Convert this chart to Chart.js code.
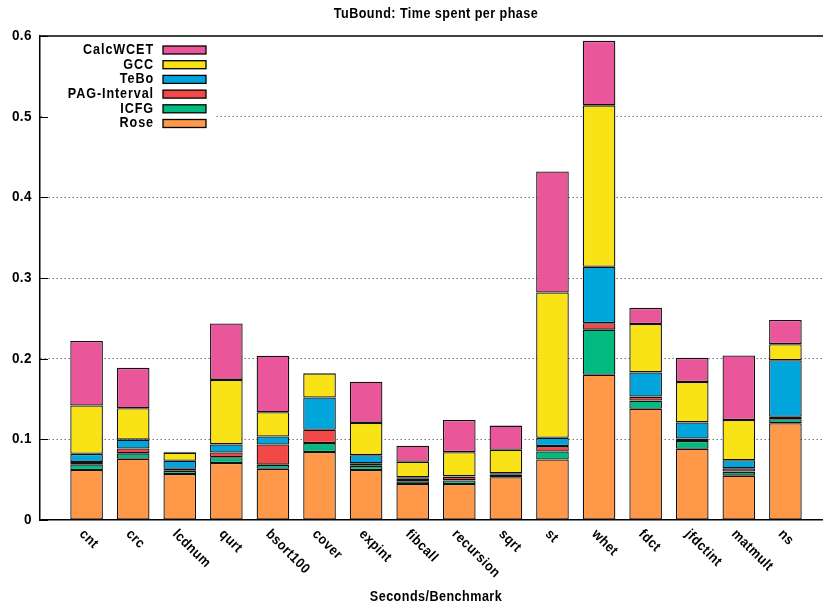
<!DOCTYPE html>
<html>
<head>
<meta charset="utf-8">
<title>TuBound: Time spent per phase</title>
<script src="https://cdn.jsdelivr.net/npm/chart.js@4/dist/chart.umd.min.js"></script>
<style>
  html, body { margin: 0; padding: 0; background: #fff; overflow: hidden; }
  #wrap { width: 832px; height: 609px; }
</style>
</head>
<body>
<div id="wrap"><canvas id="chart" width="832" height="609"></canvas></div>
<script>
// benchmarks on the x axis
var categories = ['cnt', 'crc', 'lcdnum', 'qurt', 'bsort100', 'cover', 'expint', 'fibcall',
  'recursion', 'sqrt', 'st', 'whet', 'fdct', 'jfdctint', 'matmult', 'ns'];

// seconds per phase
var rose     = [0.062, 0.076, 0.057, 0.0707, 0.0636, 0.0843, 0.062, 0.0446, 0.0446, 0.053, 0.075, 0.180, 0.138, 0.0884, 0.055, 0.120];
var icfg     = [0.007, 0.0066, 0.004, 0.007, 0.005, 0.011, 0.0054, 0.0035, 0.0045, 0.003, 0.010, 0.056, 0.010, 0.0096, 0.005, 0.005];
var pagInt   = [0.003, 0.006, 0.0025, 0.006, 0.025, 0.0165, 0.003, 0.003, 0.0045, 0.001, 0.0066, 0.008, 0.005, 0.003, 0.004, 0.003];
var tebo     = [0.010, 0.011, 0.010, 0.010, 0.010, 0.040, 0.010, 0.0018, 0.0005, 0.001, 0.0104, 0.070, 0.030, 0.020, 0.010, 0.070];
var gcc      = [0.060, 0.039, 0.010, 0.080, 0.030, 0.030, 0.040, 0.0194, 0.030, 0.029, 0.180, 0.200, 0.060, 0.050, 0.050, 0.020];
var calcWcet = [0.080, 0.050, 0.001, 0.070, 0.070, 0, 0.051, 0.0198, 0.040, 0.030, 0.150, 0.080, 0.020, 0.030, 0.080, 0.030];

var yTicks = [0, 0.1, 0.2, 0.3, 0.4, 0.5, 0.6];
var yTickLabels = ['0', '0.1', '0.2', '0.3', '0.4', '0.5', '0.6'];

var FONT = "'Liberation Sans', Arial, sans-serif";
var NARROW = 0.9; // squeeze text horizontally, gnuplot font is narrow

function points(arr) {
  return arr.map(function (v, i) { return { x: i, y: v }; });
}

function ds(label, arr, color) {
  return {
    label: label,
    data: points(arr),
    backgroundColor: color,
    borderColor: '#111',
    borderWidth: 1.3,
    borderSkipped: false,
    barPercentage: 0.7,
    categoryPercentage: 1.0
  };
}

var datasets = [
  ds('Rose', rose, 'rgb(255,152,72)'),
  ds('ICFG', icfg, 'rgb(0,186,128)'),
  ds('PAG-Interval', pagInt, 'rgb(243,72,72)'),
  ds('TeBo', tebo, 'rgb(0,166,219)'),
  ds('GCC', gcc, 'rgb(249,227,22)'),
  ds('CalcWCET', calcWcet, 'rgb(233,86,153)')
];

function drawText(ctx, s, x, y, align, angle) {
  ctx.save();
  ctx.translate(x, y);
  if (angle) ctx.rotate(angle);
  ctx.scale(NARROW, 1);
  ctx.textAlign = align;
  ctx.fillText(s, 0, 0);
  ctx.restore();
}

// gnuplot-like decorations: titles, tick labels, legend, frame
var decorPlugin = {
  id: 'decor',
  beforeDatasetsDraw: function (chart) {
    var ctx = chart.ctx, a = chart.chartArea;
    // legend box hides the grid behind it
    ctx.save();
    ctx.fillStyle = '#fff';
    ctx.fillRect(a.left + 2, a.top + 2, 172, 96);
    ctx.restore();
  },
  afterDraw: function (chart) {
    var ctx = chart.ctx, a = chart.chartArea;
    var xs = chart.scales.x, ys = chart.scales.y;
    ctx.save();

    // top frame line
    ctx.strokeStyle = '#000';
    ctx.lineWidth = 1.5;
    ctx.beginPath();
    ctx.moveTo(a.left, a.top);
    ctx.lineTo(a.right, a.top);
    ctx.stroke();

    // inward ticks on y axis
    ctx.lineWidth = 1;
    yTicks.forEach(function (v) {
      var y = Math.round(ys.getPixelForValue(v)) + 0.5;
      ctx.beginPath();
      ctx.moveTo(a.left, y);
      ctx.lineTo(a.left + 8, y);
      ctx.stroke();
    });

    ctx.fillStyle = '#000';
    ctx.textBaseline = 'middle';
    ctx.letterSpacing = '0.5px';

    // title and x axis title
    ctx.font = 'bold 14px ' + FONT;
    drawText(ctx, 'TuBound: Time spent per phase', 436, 14, 'center');
    drawText(ctx, 'Seconds/Benchmark', 436, 597, 'center');

    // y tick labels
    ctx.font = 'bold 15px ' + FONT;
    yTicks.forEach(function (v, i) {
      drawText(ctx, yTickLabels[i], a.left - 8, ys.getPixelForValue(v), 'right');
    });

    // x tick labels rotated by -45 (gnuplot style)
    ctx.font = 'bold 14px ' + FONT;
    categories.forEach(function (c, i) {
      drawText(ctx, c, xs.getPixelForValue(i) - 5, a.bottom + 12, 'left', Math.PI / 4);
    });

    // legend, top to bottom in reverse stacking order
    ctx.font = 'bold 14px ' + FONT;
    ctx.letterSpacing = '1px';
    var dsets = chart.data.datasets.slice().reverse();
    dsets.forEach(function (d, i) {
      var y = 50 + i * 14.7;
      ctx.fillStyle = '#000';
      drawText(ctx, d.label, 154, y, 'right');
      ctx.fillStyle = d.backgroundColor;
      ctx.fillRect(163, y - 4, 43, 8);
      ctx.strokeStyle = '#000';
      ctx.lineWidth = 1.3;
      ctx.strokeRect(163, y - 4, 43, 8);
    });
    ctx.restore();
  }
};

var chart = new Chart(document.getElementById('chart'), {
  type: 'bar',
  data: { datasets: datasets },
  options: {
    responsive: false,
    animation: false,
    devicePixelRatio: 1,
    layout: { padding: { left: 40, right: 0, top: 36, bottom: 89 } },
    plugins: {
      legend: { display: false },
      title: { display: false },
      tooltip: { enabled: false }
    },
    scales: {
      x: {
        type: 'linear',
        stacked: true,
        min: -1,
        max: 16,
        offset: false,
        ticks: { display: false },
        grid: { display: false, drawTicks: false },
        border: { display: true, color: '#000', width: 1.5 }
      },
      y: {
        stacked: true,
        min: 0,
        max: 0.6,
        ticks: { display: false, stepSize: 0.1 },
        grid: {
          drawTicks: false,
          color: function (c) {
            var v = c.tick ? c.tick.value : 0;
            return (v > 0.01 && v < 0.59) ? '#777' : 'rgba(0,0,0,0)';
          },
          lineWidth: 1
        },
        border: { display: true, color: '#000', width: 1.5, dash: [1.5, 2.5] }
      }
    }
  },
  plugins: [decorPlugin]
});
</script>
</body>
</html>
